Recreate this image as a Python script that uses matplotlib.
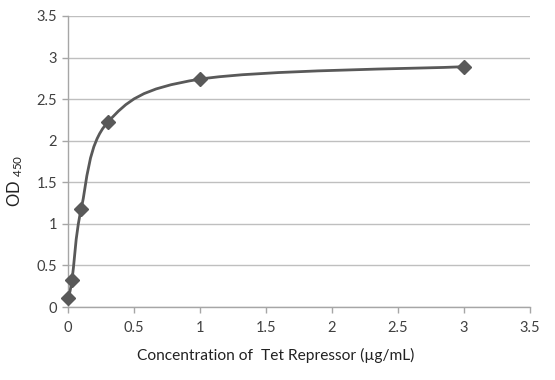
import numpy as np
import matplotlib
matplotlib.use("Agg")
import matplotlib.pyplot as plt
from matplotlib.path import Path
from matplotlib.patches import PathPatch

plt.rcParams["font.family"] = ["Lato", "DejaVu Sans"]
plt.rcParams["mathtext.default"] = "regular"

# Data
concentration = [0.0, 0.03, 0.1, 0.3, 1.0, 3.0]
od450 = [0.11, 0.32, 1.18, 2.22, 2.74, 2.89]

line_color = "#595959"
text_color = "#404040"
grid_color = "#bfbfbf"


def smooth_path(xs, ys):
    # Excel-like smoothed line: Catmull-Rom as cubic Bezier segments
    pts = np.column_stack([xs, ys])
    n = len(pts)
    verts = [pts[0]]
    codes = [Path.MOVETO]
    for i in range(n - 1):
        p0 = pts[i - 1] if i > 0 else pts[i]
        p1 = pts[i]
        p2 = pts[i + 1]
        p3 = pts[i + 2] if i + 2 < n else pts[i + 1]
        c1 = p1 + (p2 - p0) / 6.0
        c2 = p2 - (p3 - p1) / 6.0
        verts += [c1, c2, p2]
        codes += [Path.CURVE4] * 3
    return Path(verts, codes)


fig = plt.figure(figsize=(5.55, 3.8), dpi=100)
ax = fig.add_axes([0.1225, 0.192, 0.8325, 0.766])

ax.add_patch(PathPatch(smooth_path(concentration, od450), facecolor="none",
                       edgecolor=line_color, linewidth=2.0, zorder=3,
                       clip_on=False))
ax.plot(concentration, od450, linestyle="none", marker="D", markersize=7,
        color=line_color, zorder=4, clip_on=False)

ax.set_xlim(0, 3.5)
ax.set_ylim(0, 3.5)
ax.set_xticks(np.arange(0, 3.51, 0.5))
ax.set_yticks(np.arange(0, 3.51, 0.5))
ax.set_xticklabels(["0", "0.5", "1", "1.5", "2", "2.5", "3", "3.5"])
ax.set_yticklabels(["0", "0.5", "1", "1.5", "2", "2.5", "3", "3.5"])
ax.yaxis.grid(True, color=grid_color, linewidth=1.0)
ax.set_axisbelow(True)

for side in ["top", "right"]:
    ax.spines[side].set_visible(False)
for side in ["left", "bottom"]:
    ax.spines[side].set_color("#a6a6a6")
    ax.spines[side].set_linewidth(1.0)

ax.tick_params(axis="both", colors="#a6a6a6", labelcolor=text_color,
               labelsize=10.5, length=4, width=1.0)
ax.tick_params(axis="x", pad=6)
ax.tick_params(axis="y", pad=4)

ax.set_xlabel("Concentration of  Tet Repressor (\u00b5g/mL)", fontsize=11.2,
              color="#222222")
ax.set_ylabel(r"OD $_{450}$", fontsize=12, color="#222222")
ax.xaxis.set_label_coords(0.45, -0.142)
ax.yaxis.set_label_coords(-0.093, 0.435)

fig.savefig("out.png", dpi=100)
